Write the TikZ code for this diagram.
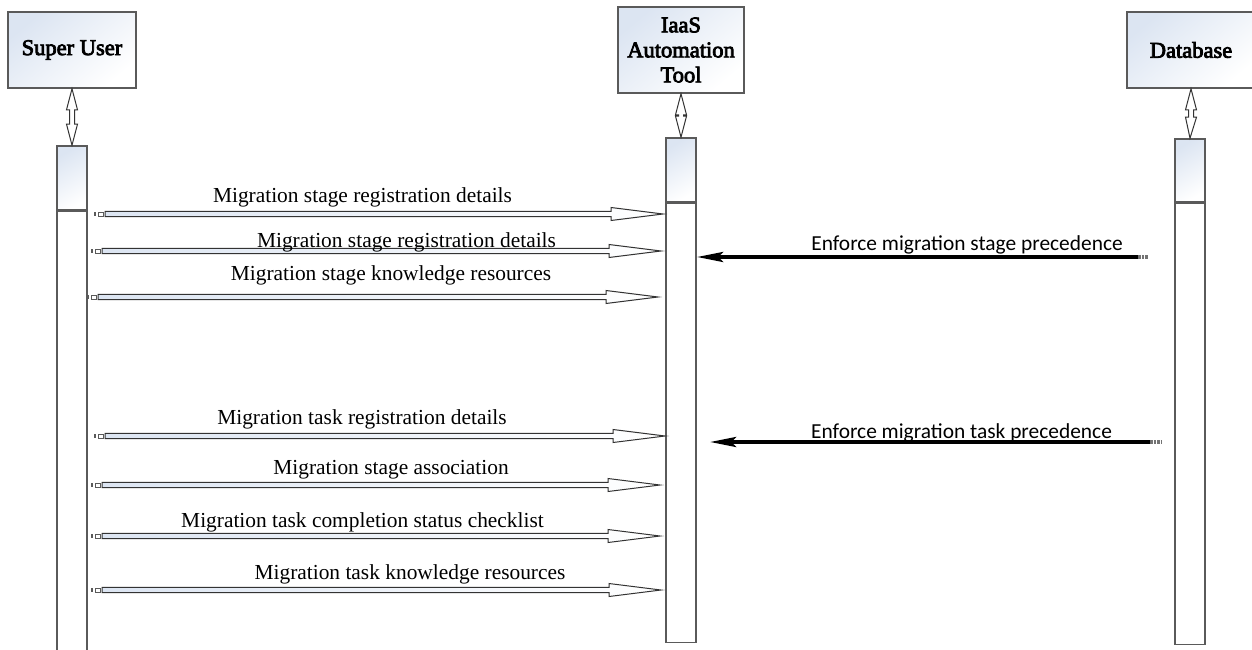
\documentclass[tikz,border=0pt]{standalone}
\usepackage{fontspec}
\setmainfont{Liberation Serif}
\newfontfamily\titlefont{Liberation Serif}[FakeBold=3.5]
\newfontfamily\calfont{Carlito}
\usetikzlibrary{arrows.meta,calc}

\definecolor{edge}{HTML}{5A5A5A}
\definecolor{tint}{HTML}{DCE5F2}

% hollow message arrow: shaft from #1, head tip at #2
\newcommand\hollowmsg[2]{%
  \draw[msgshape] let \p1=(#1), \p2=(#2) in
    (\x1,\y1+2.6pt) -- (\x2-52pt,\y1+2.6pt) -- (\x2-52pt,\y1+6.5pt) -- (\x2,\y1)
    -- (\x2-52pt,\y1-6.5pt) -- (\x2-52pt,\y1-2.6pt) -- (\x1,\y1-2.6pt) -- cycle;
  \fill[edge] let \p1=(#1) in (\x1-11pt,\y1-2pt) rectangle (\x1-9pt,\y1+2pt);
  \draw[edge,line width=0.8pt] let \p1=(#1) in (\x1-7pt,\y1-2pt) rectangle (\x1-2pt,\y1+2pt);
}
% hollow double-headed link from the bottom of a box (#1) to its lifeline (#2)
\newcommand\linkarrow[2]{%
  \draw[linkshape] let \p1=(#1), \p2=(#2) in
    (\x1,\y1) -- (\x1+5.5pt,\y1-21pt) -- (\x1+2.5pt,\y1-21pt) -- (\x1+2.5pt,\y2+21pt)
    -- (\x1+5.5pt,\y2+21pt) -- (\x2,\y2) -- (\x1-5.5pt,\y2+21pt) -- (\x1-2.5pt,\y2+21pt)
    -- (\x1-2.5pt,\y1-21pt) -- (\x1-5.5pt,\y1-21pt) -- cycle;
}

\begin{document}
\begin{tikzpicture}[x=1pt,y=-1pt,
  actor/.style={draw=edge, line width=1.6pt, top color=tint, bottom color=white,
    shading angle=40, inner sep=0pt, align=center,
    font=\titlefont\fontsize{22.5}{25}\selectfont},
  barhead/.style={draw=edge, line width=1.6pt, top color=tint, bottom color=white,
    shading angle=30, minimum width=30pt, inner sep=0pt},
  barlife/.style={draw=edge, line width=1.6pt, fill=white, minimum width=30pt, inner sep=0pt},
  msgshape/.style={draw=black!80, line width=1pt, left color=tint, right color=white},
  linkshape/.style={draw=black!80, line width=1pt, fill=white},
  msglabel/.style={anchor=base, inner sep=0pt, font=\fontsize{21.4}{25}\selectfont},
  dblabel/.style={anchor=base, inner sep=0pt, font=\calfont\fontsize{21.4}{25}\selectfont},
  dbmsg/.style={line width=4pt, black, -{Stealth[length=26pt,width=10pt,inset=5pt]}},
  dbtail/.style={line width=4pt, black!55, dash pattern=on 2.5pt off 1pt},
]
\useasboundingbox (0,0) rectangle (1252,650);
\clip (0,0) rectangle (1252,650);

% participants
\node[actor, minimum width=128pt, minimum height=76pt] (su) at (72,50) {Super User};
\node[actor, minimum width=126pt, minimum height=86pt] (iaas) at (681,50) {IaaS\\Automation\\Tool};
\node[actor, minimum width=128pt, minimum height=76pt] (db) at (1191,50) {Database};

% lifelines
\node[barhead, minimum height=64pt] (suhead) at (72,178) {};
\node[barlife, minimum height=450pt, anchor=north] (sulife) at (suhead.south) {};
\node[barhead, minimum height=64pt] (iaashead) at (681,170) {};
\node[barlife, minimum height=439pt, anchor=north] (iaaslife) at (iaashead.south) {};
\node[barhead, minimum height=63pt] (dbhead) at (1190,170.5) {};
\node[barlife, minimum height=441pt, anchor=north] (dblife) at (dbhead.south) {};

\linkarrow{su.south}{suhead.north}
\linkarrow{iaas.south}{iaashead.north}
\linkarrow{db.south}{dbhead.north}

% messages from the super user
\coordinate (m1s) at (105,214); \coordinate (m1e) at (663,214);
\coordinate (m2s) at (102,251); \coordinate (m2e) at (661,251);
\coordinate (m3s) at (98,297);  \coordinate (m3e) at (658,297);
\coordinate (m4s) at (105,436); \coordinate (m4e) at (665,436);
\coordinate (m5s) at (102,485); \coordinate (m5e) at (660,485);
\coordinate (m6s) at (102,536); \coordinate (m6e) at (660,536);
\coordinate (m7s) at (102,590); \coordinate (m7e) at (661,590);

\hollowmsg{m1s}{m1e}
\hollowmsg{m2s}{m2e}
\hollowmsg{m3s}{m3e}
\hollowmsg{m4s}{m4e}
\hollowmsg{m5s}{m5e}
\hollowmsg{m6s}{m6e}
\hollowmsg{m7s}{m7e}

\node[msglabel] (l1) at (362.5,202) {Migration stage registration details};
\node[msglabel] (l2) at (406.5,247) {Migration stage registration details};
\node[msglabel] (l3) at (391,280) {Migration stage knowledge resources};
\node[msglabel] (l4) at (362,424) {Migration task registration details};
\node[msglabel] (l5) at (391,474) {Migration stage association};
\node[msglabel] (l6) at (362.5,527) {Migration task completion status checklist};
\node[msglabel] (l7) at (410,579) {Migration task knowledge resources};

% messages from the database
\coordinate (d1s) at (1138,257); \coordinate (d1t) at (1148,257); \coordinate (d1e) at (697,257);
\coordinate (d2s) at (1150,442); \coordinate (d2t) at (1162,442); \coordinate (d2e) at (710,442);
\draw[dbtail] (d1s) -- (d1t);
\draw[dbmsg] (d1s) -- (d1e);
\draw[dbtail] (d2s) -- (d2t);
\draw[dbmsg] (d2s) -- (d2e);

\node[dblabel] (e1) at (967,250) {Enforce migration stage precedence};
\node[dblabel] (e2) at (961.5,438) {Enforce migration task precedence};
\end{tikzpicture}
\end{document}
